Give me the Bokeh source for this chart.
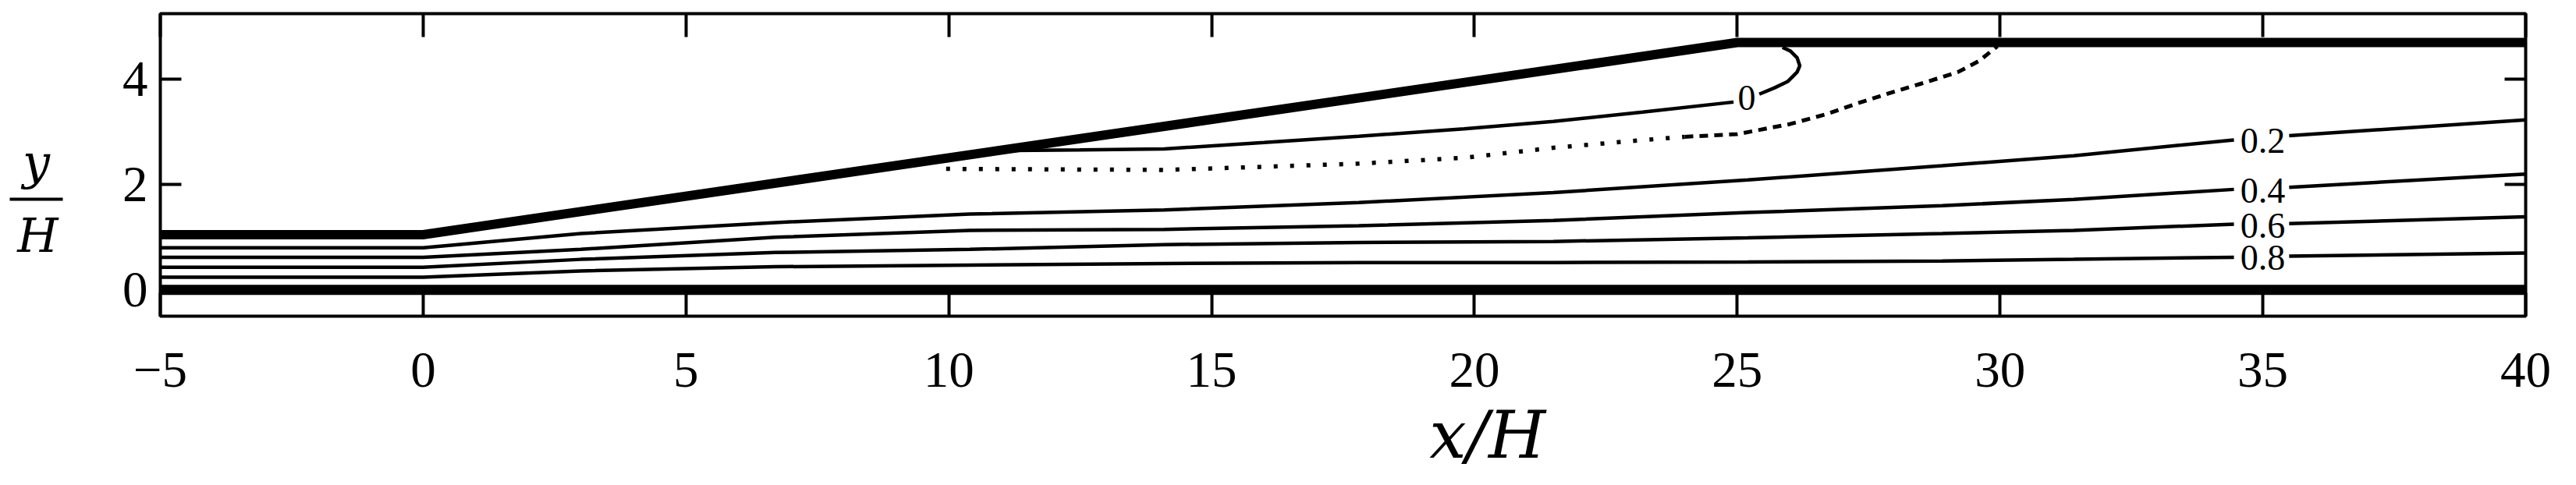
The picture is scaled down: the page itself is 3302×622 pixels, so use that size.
from bokeh.plotting import figure
from bokeh.models import Range1d, LinearAxis, FixedTicker
from bokeh.layouts import row, column
from bokeh.embed import file_html
from bokeh.resources import INLINE
from bokeh.core.properties import value

# ---------------- data ----------------
x_ticks = [-5, 0, 5, 10, 15, 20, 25, 30, 35, 40]
y_ticks = [0, 2, 4]

# channel walls
wall_lower_x = [-5, 40]
wall_lower_y = [0.0, 0.0]
wall_upper_x = [-5, 0, 25, 40]
wall_upper_y = [1.05, 1.05, 4.70, 4.70]

# streamlines psi = 0.2 ... 0.8 (left part up to the label, right part after it)
x_left = [-5, 0, 3.0, 6.7, 10.4, 14.1, 17.8, 21.5, 25.2, 28.9, 31.4, 34.45]
x_right = [35.5, 40]
psi_levels = ["0.2", "0.4", "0.6", "0.8"]
psi02_left = [0.80, 0.80, 1.07, 1.28, 1.44, 1.52, 1.66, 1.85, 2.09, 2.36, 2.55, 2.85]
psi02_right = [2.93, 3.23]
psi04_left = [0.62, 0.62, 0.77, 1.00, 1.13, 1.15, 1.22, 1.32, 1.47, 1.60, 1.72, 1.91]
psi04_right = [1.95, 2.20]
psi06_left = [0.43, 0.43, 0.58, 0.71, 0.77, 0.86, 0.90, 0.92, 0.99, 1.07, 1.13, 1.25]
psi06_right = [1.26, 1.39]
psi08_left = [0.24, 0.24, 0.36, 0.44, 0.47, 0.50, 0.52, 0.52, 0.53, 0.55, 0.58, 0.62]
psi08_right = [0.64, 0.70]

# dividing streamline psi = 0
psi0_left_x = [11.2, 12.5, 14.1, 16.0, 17.8, 19.8, 21.5, 23.2, 24.93]
psi0_left_y = [2.65, 2.66, 2.68, 2.80, 2.92, 3.06, 3.20, 3.38, 3.57]
psi0_right_x = [25.42, 25.71, 25.96, 26.14, 26.19, 26.14, 26.01, 25.86]
psi0_right_y = [3.72, 3.84, 3.96, 4.14, 4.26, 4.41, 4.54, 4.61]

# zero-velocity line (dotted / dashed)
u0_x = [9.95, 12.0, 14.1, 16.0, 17.8, 19.8, 21.5, 23.0, 24.0, 25.0, 26.0, 26.7,
        27.3, 27.9, 28.5, 29.2, 29.6, 29.95]
u0_y = [2.30, 2.29, 2.28, 2.34, 2.40, 2.51, 2.70, 2.83, 2.91, 2.96, 3.15, 3.34,
        3.55, 3.74, 3.92, 4.14, 4.35, 4.63]

x_title = "x/H"

# ---------------- layout / style ----------------
SERIF = "Liberation Serif"
MATH = "DejaVu Serif"
LEFT_W = 140            # panel holding the y/H fraction
B_LEFT, B_RIGHT = 65, 49
FRAME_W, FRAME_H = 3032, 388
P_TOP, P_BOTTOM = 17, 10
TOP_H = P_TOP + FRAME_H + P_BOTTOM      # 415
R_TOP, R_FRAME = 80, 111                # bottom panel: tick labels + x/H

x_range = Range1d(-5, 40)

p = figure(frame_width=FRAME_W, frame_height=FRAME_H,
           x_range=x_range, y_range=Range1d(-0.5, 5.25),
           output_backend="svg", toolbar_location=None,
           min_border_left=B_LEFT, min_border_right=B_RIGHT,
           min_border_top=P_TOP, min_border_bottom=P_BOTTOM,
           background_fill_color="white", border_fill_color="white")
p.grid.visible = False
p.outline_line_color = "black"
p.outline_line_width = 4

xt = FixedTicker(ticks=x_ticks)
yt = FixedTicker(ticks=y_ticks)

xa = p.xaxis[0]
xa.ticker = xt
xa.major_tick_in = 30
xa.major_tick_out = 0
xa.major_tick_line_width = 4
xa.minor_tick_line_color = None
xa.axis_line_color = None
xa.major_label_standoff = 0
xa.major_label_text_font_size = "1px"
xa.major_label_overrides = {t: "" for t in x_ticks}

ya = p.yaxis[0]
ya.ticker = yt
ya.major_tick_in = 27
ya.major_tick_out = 0
ya.major_tick_line_width = 4
ya.minor_tick_line_color = None
ya.axis_line_color = None
ya.major_label_standoff = 16
ya.major_label_text_font = SERIF
ya.major_label_text_font_size = "65px"
ya.major_label_text_color = "black"

top = LinearAxis(ticker=xt, major_tick_in=30, major_tick_out=0, major_tick_line_width=4,
                 minor_tick_line_color=None, axis_line_color=None, major_label_standoff=0,
                 major_label_text_font_size="1px",
                 major_label_overrides={t: "" for t in x_ticks})
p.add_layout(top, "above")
right = LinearAxis(ticker=yt, major_tick_in=27, major_tick_out=0, major_tick_line_width=4,
                   minor_tick_line_color=None, axis_line_color=None, major_label_standoff=0,
                   major_label_text_font_size="1px",
                   major_label_overrides={t: "" for t in y_ticks})
p.add_layout(right, "right")

# walls
p.line(wall_lower_x, wall_lower_y, line_color="black", line_width=13)
p.line(wall_upper_x, wall_upper_y, line_color="black", line_width=12, line_join="miter")

# streamlines
lw = 4.5
for yl, yr in [(psi02_left, psi02_right), (psi04_left, psi04_right),
               (psi06_left, psi06_right), (psi08_left, psi08_right)]:
    p.line(x_left, yl, line_color="black", line_width=lw)
    p.line(x_right, yr, line_color="black", line_width=lw)

p.line(psi0_left_x, psi0_left_y, line_color="black", line_width=lw)
p.line(psi0_right_x, psi0_right_y, line_color="black", line_width=lw)

# zero-velocity line: dotted, then dashed
p.line(u0_x[:9], u0_y[:9], line_color="black", line_width=5.5, line_dash="5 16")
p.line(u0_x[8:], u0_y[8:], line_color="black", line_width=5, line_dash="11 8")

# contour labels
p.text(x=[35.0] * 4, y=[2.83, 1.88, 1.22, 0.61], text=psi_levels,
       text_font=value(SERIF), text_font_size="46px",
       text_align="center", text_baseline="middle", text_color="black")
p.text(x=[25.18], y=[3.65], text=["0"],
       text_font=value(SERIF), text_font_size="46px",
       text_align="center", text_baseline="middle", text_color="black")

# ---------------- y/H fraction (left panel, pixel coordinates from top) ----------------
q = figure(frame_width=LEFT_W, frame_height=TOP_H,
           x_range=Range1d(0, LEFT_W), y_range=Range1d(TOP_H, 0),
           output_backend="svg", toolbar_location=None,
           x_axis_type=None, y_axis_type=None, min_border=0,
           background_fill_color="white", border_fill_color="white")
q.grid.visible = False
q.outline_line_color = None
q.text(x=[46], y=[190], text=["y"], text_font=value(MATH), text_font_style="italic",
       text_font_size="62px", text_align="center", text_baseline="middle",
       text_color="black")
q.line([12, 80], [238, 238], line_color="black", line_width=4)
q.text(x=[48], y=[284], text=["H"], text_font=value(MATH), text_font_style="italic",
       text_font_size="60px", text_align="center", text_baseline="middle",
       text_color="black")

# ---------------- bottom panel: x tick labels (axis above) and x/H ----------------
r = figure(frame_width=FRAME_W, frame_height=R_FRAME,
           x_range=x_range, y_range=Range1d(R_FRAME, 0),
           output_backend="svg", toolbar_location=None,
           x_axis_type=None, y_axis_type=None,
           min_border_left=LEFT_W + B_LEFT, min_border_right=B_RIGHT,
           min_border_top=R_TOP, min_border_bottom=0,
           background_fill_color="white", border_fill_color="white")
r.grid.visible = False
r.outline_line_color = None
xlabels = LinearAxis(ticker=xt, major_tick_in=0, major_tick_out=0,
                     minor_tick_line_color=None, major_tick_line_color=None,
                     axis_line_color=None, major_label_standoff=0,
                     major_label_text_font=SERIF, major_label_text_font_size="65px",
                     major_label_text_color="black",
                     major_label_overrides={-5: "\u22125"})
r.add_layout(xlabels, "above")
r.text(x=[20.25], y=[62.5], text=[x_title], text_font=value(MATH), text_font_style="italic",
       text_font_size="84px", text_align="center", text_baseline="middle",
       text_color="black")

layout = column(row(q, p), r)
open("out.html", "w").write(file_html(layout, INLINE))
